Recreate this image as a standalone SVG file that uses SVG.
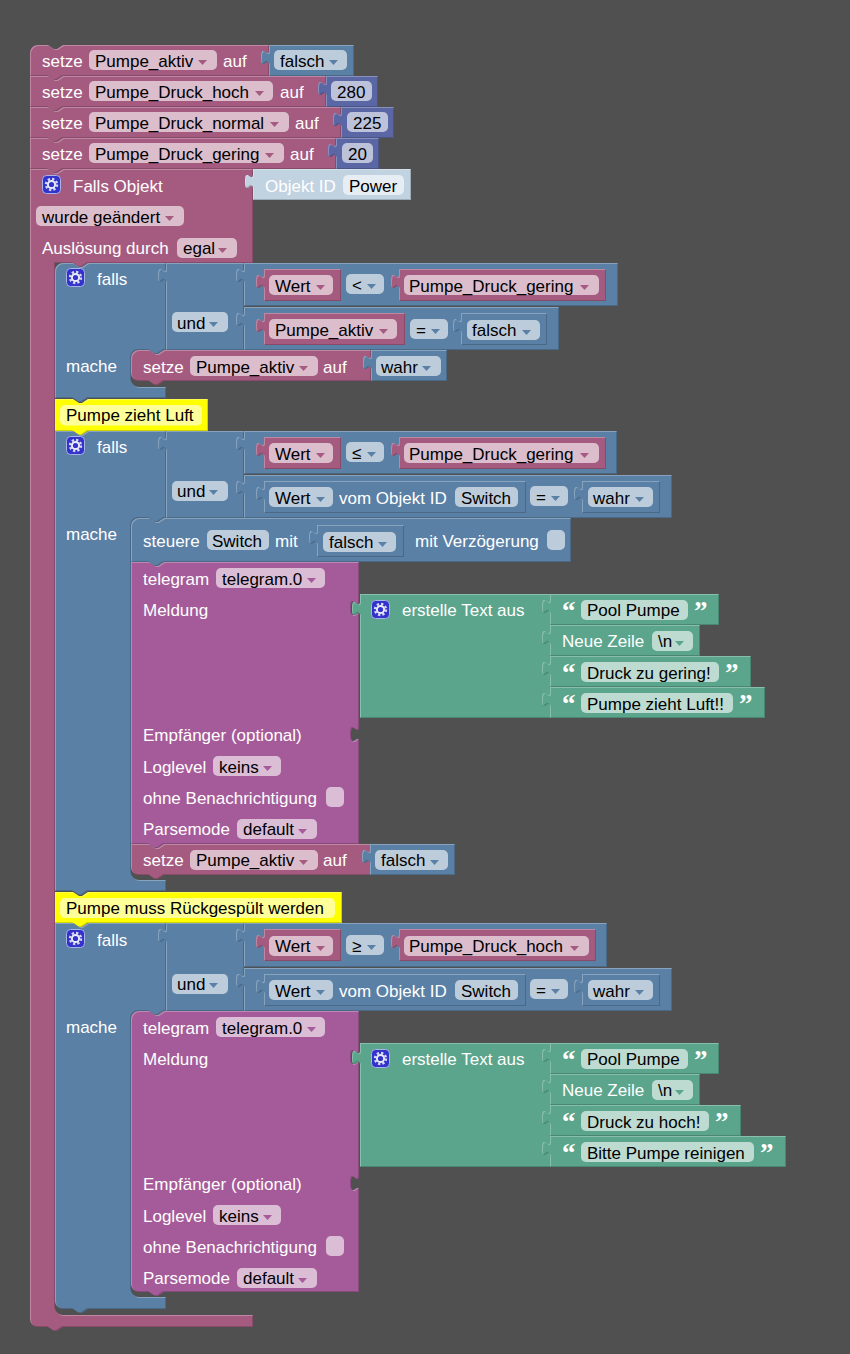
<svg xmlns="http://www.w3.org/2000/svg" width="850" height="1354" viewBox="0 0 850 1354">
<style>
text{font-family:"Liberation Sans",Arial,sans-serif;font-size:17px}
.w{fill:#fff}.k{fill:#000}
.s{filter:url(#bev)}
.v{fill:#a55b80}.l{fill:#5b80a5}.m{fill:#5b67a5}.t{fill:#5ba58c}.p{fill:#a55b99}.y{fill:#ff0}.o{fill:#c1d2e1}
.f{fill:#fff;fill-opacity:.6}
.q{fill:#fff;font-family:"Liberation Serif",serif;font-weight:bold;font-size:27px}
</style>
<defs>
<filter id="bev" x="-5%" y="-5%" width="110%" height="110%" color-interpolation-filters="sRGB">
<feOffset in="SourceAlpha" dx="1" dy="1" result="o1"/>
<feComposite in="SourceAlpha" in2="o1" operator="out" result="tl"/>
<feFlood flood-color="#fff" flood-opacity=".28"/>
<feComposite in2="tl" operator="in" result="hl"/>
<feOffset in="SourceAlpha" dx="-1" dy="-1" result="o2"/>
<feComposite in="SourceAlpha" in2="o2" operator="out" result="br"/>
<feFlood flood-color="#000" flood-opacity=".18"/>
<feComposite in2="br" operator="in" result="sh"/>
<feMerge><feMergeNode in="SourceGraphic"/><feMergeNode in="hl"/><feMergeNode in="sh"/></feMerge>
</filter>
<path id="a" d="M0,0h9l-4.500,5z" stroke-width="1" stroke-linejoin="round"/>
<g id="gear">
<rect x="0.500" y="0.500" width="18" height="18" rx="4" fill="#3333cc" stroke="#a9b4e6"/>
<circle cx="9.500" cy="9.500" r="5.500" fill="none" stroke="#d5d9f2" stroke-width="2.400" stroke-dasharray="2.300 2"/>
<circle cx="9.500" cy="9.500" r="3.600" fill="none" stroke="#e8eaf8" stroke-width="2"/>
</g>
</defs>
<rect width="850" height="1354" fill="#505050"/>

<g id="set1"><path class="s v" d="M38,45H48l6,4 3,0 6,-4H269V76H63l-6,4 -3,0 -6,-4H30V53A8,8 0 0 1 38,45z"/>
<text class="w" x="42" y="67">setze</text><rect class="f" x="89" y="50" width="128" height="20" rx="5"/><text class="k" x="95" y="66.500">Pumpe_aktiv</text><use href="#a" x="198" y="60" class="v"/><text class="w" x="223" y="67">auf</text></g>
<g id="val1"><path class="s l" d="M269,45H354V76H269V65c0,-10 -8,8 -8,-7.500s8,2.500 8,-7.500z"/>
<rect class="f" x="274" y="50" width="73" height="20" rx="5"/><text class="k" x="280" y="66.500">falsch</text><use href="#a" x="329" y="60" class="l"/></g>

<g id="set2"><path class="s v" d="M30,76H48l6,4 3,0 6,-4H326V107H63l-6,4 -3,0 -6,-4H30z"/>
<text class="w" x="42" y="98">setze</text><rect class="f" x="89" y="81" width="184" height="20" rx="5"/><text class="k" x="95" y="97.500">Pumpe_Druck_hoch</text><use href="#a" x="255" y="91" class="v"/><text class="w" x="280" y="98">auf</text></g>
<g id="val2"><path class="s m" d="M326,76H378V107H326V96c0,-10 -8,8 -8,-7.500s8,2.500 8,-7.500z"/>
<rect class="f" x="331" y="81" width="41" height="20" rx="5"/><text class="k" x="337" y="97.500">280</text></g>

<g id="set3"><path class="s v" d="M30,107H48l6,4 3,0 6,-4H341V138H63l-6,4 -3,0 -6,-4H30z"/>
<text class="w" x="42" y="129">setze</text><rect class="f" x="89" y="112" width="200" height="20" rx="5"/><text class="k" x="95" y="128.500">Pumpe_Druck_normal</text><use href="#a" x="270" y="122" class="v"/><text class="w" x="295" y="129">auf</text></g>
<g id="val3"><path class="s m" d="M341,107H394V138H341V127c0,-10 -8,8 -8,-7.500s8,2.500 8,-7.500z"/>
<rect class="f" x="347" y="112" width="41" height="20" rx="5"/><text class="k" x="353" y="128.500">225</text></g>

<g id="set4"><path class="s v" d="M30,138H48l6,4 3,0 6,-4H336V169H63l-6,4 -3,0 -6,-4H30z"/>
<text class="w" x="42" y="160">setze</text><rect class="f" x="89" y="143" width="195" height="20" rx="5"/><text class="k" x="95" y="159.500">Pumpe_Druck_gering</text><use href="#a" x="265" y="153" class="v"/><text class="w" x="290" y="160">auf</text></g>
<g id="val4"><path class="s m" d="M336,138H379V169H336V158c0,-10 -8,8 -8,-7.500s8,2.500 8,-7.500z"/>
<rect class="f" x="342" y="143" width="31" height="20" rx="5"/><text class="k" x="348" y="159.500">20</text></g>

<g id="trigger"><path class="s v" d="M30,169H48l6,4 3,0 6,-4H253V263H88l-6,4 -3,0 -6,-4H55V1307A8,8 0 0 0 63,1315H253V1327H63l-6,4 -3,0 -6,-4H38A8,8 0 0 1 30,1319z"/>
<use href="#gear" x="42" y="175"/><text class="w" x="73" y="192">Falls Objekt</text>
<rect class="f" x="36" y="206" width="148" height="20" rx="5"/><text class="k" x="42" y="222.500">wurde geändert</text><use href="#a" x="165" y="216" class="v"/>
<text class="w" x="42" y="254">Auslösung durch</text><rect class="f" x="177" y="238" width="60" height="20" rx="5"/><text class="k" x="183" y="254">egal</text><use href="#a" x="218" y="248" class="v"/></g>
<g id="objid"><path class="s o" d="M253,169H411V200H253V189c0,-10 -8,8 -8,-7.500s8,2.500 8,-7.500z"/>
<text class="w" x="265" y="192">Objekt ID</text><rect class="f" x="343" y="175" width="61" height="20" rx="5"/><text class="k" x="349" y="191.500">Power</text></g>

<g id="falls1"><path class="s l" d="M63,263H73l6,4 3,0 6,-4H166V350H164l-6,4 -3,0 -6,-4H139A8,8 0 0 0 131,358V379A8,8 0 0 0 139,387H166V398H88l-6,4 -3,0 -6,-4H55V271A8,8 0 0 1 63,263z"/>
<use href="#gear" x="66" y="268"/><text class="w" x="97" y="285">falls</text><text class="w" x="66" y="372">mache</text></g>
<g id="und1"><path class="s l" d="M166,263H244V350H166V283c0,-10 -8,8 -8,-7.500s8,2.500 8,-7.500z"/>
<rect class="f" x="172" y="312" width="56" height="20" rx="5"/><text class="k" x="177" y="329">und</text><use href="#a" x="209" y="322" class="l"/></g>
<g id="cmp1a"><path class="s l" d="M244,263H618V306H244V283c0,-10 -8,8 -8,-7.500s8,2.500 8,-7.500z"/>
<rect class="f" x="346" y="274" width="38" height="20" rx="5"/><text class="k" x="352" y="291">&lt;</text><use href="#a" x="367" y="284" class="l"/></g>
<g id="wert1a"><path class="s v" d="M264,269H341V301H264V289c0,-10 -8,8 -8,-7.500s8,2.500 8,-7.500z"/>
<rect class="f" x="269" y="275" width="64" height="20" rx="5"/><text class="k" x="275" y="291.500">Wert</text><use href="#a" x="316" y="285" class="v"/></g>
<g id="var1a"><path class="s v" d="M399,269H606V301H399V289c0,-10 -8,8 -8,-7.500s8,2.500 8,-7.500z"/>
<rect class="f" x="404" y="275" width="195" height="20" rx="5"/><text class="k" x="409" y="291.500">Pumpe_Druck_gering</text><use href="#a" x="580" y="285" class="v"/></g>
<g id="cmp1b"><path class="s l" d="M244,307H559V350H244V327c0,-10 -8,8 -8,-7.500s8,2.500 8,-7.500z"/>
<rect class="f" x="410" y="319" width="38" height="20" rx="5"/><text class="k" x="416" y="336">=</text><use href="#a" x="431" y="329" class="l"/></g>
<g id="var1b"><path class="s v" d="M264,313H405V345H264V333c0,-10 -8,8 -8,-7.500s8,2.500 8,-7.500z"/>
<rect class="f" x="269" y="319" width="128" height="20" rx="5"/><text class="k" x="275" y="335.500">Pumpe_aktiv</text><use href="#a" x="379" y="329" class="v"/></g>
<g id="bool1b"><path class="s l" d="M461,313H547V345H461V333c0,-10 -8,8 -8,-7.500s8,2.500 8,-7.500z"/>
<rect class="f" x="467" y="320" width="73" height="20" rx="5"/><text class="k" x="472" y="336">falsch</text><use href="#a" x="522" y="330" class="l"/></g>
<g id="set5"><path class="s v" d="M139,350H149l6,4 3,0 6,-4H371V381H164l-6,4 -3,0 -6,-4H139A8,8 0 0 1 131,373V358A8,8 0 0 1 139,350z"/>
<text class="w" x="143" y="373">setze</text><rect class="f" x="190" y="356" width="128" height="20" rx="5"/><text class="k" x="196" y="372.500">Pumpe_aktiv</text><use href="#a" x="299" y="366" class="v"/><text class="w" x="323" y="373">auf</text></g>
<g id="val5"><path class="s l" d="M371,350H447V381H371V370c0,-10 -8,8 -8,-7.500s8,2.500 8,-7.500z"/>
<rect class="f" x="376" y="356" width="65" height="20" rx="5"/><text class="k" x="381" y="372.500">wahr</text><use href="#a" x="422" y="366" class="l"/></g>

<g id="comment1"><path class="s y" d="M55,399H73l6,4 3,0 6,-4H208V431H88l-6,4 -3,0 -6,-4H55z"/>
<rect x="60" y="405" width="142" height="20.500" rx="5" fill="#fff" fill-opacity=".6"/><text class="k" x="66" y="421">Pumpe zieht Luft</text></g>

<g id="falls2"><path class="s l" d="M55,431H73l6,4 3,0 6,-4H166V518H164l-6,4 -3,0 -6,-4H139A8,8 0 0 0 131,526V872A8,8 0 0 0 139,880H166V891H88l-6,4 -3,0 -6,-4H55z"/>
<use href="#gear" x="66" y="436"/><text class="w" x="97" y="453">falls</text><text class="w" x="66" y="540">mache</text></g>
<g id="und2"><path class="s l" d="M166,431H244V518H166V451c0,-10 -8,8 -8,-7.500s8,2.500 8,-7.500z"/>
<rect class="f" x="172" y="481" width="56" height="20" rx="5"/><text class="k" x="177" y="497">und</text><use href="#a" x="209" y="490" class="l"/></g>
<g id="cmp2a"><path class="s l" d="M244,431H617V474H244V451c0,-10 -8,8 -8,-7.500s8,2.500 8,-7.500z"/>
<rect class="f" x="346" y="442" width="38" height="20" rx="5"/><text class="k" x="352" y="459">≤</text><use href="#a" x="367" y="452" class="l"/></g>
<g id="wert2a"><path class="s v" d="M264,437H341V469H264V457c0,-10 -8,8 -8,-7.500s8,2.500 8,-7.500z"/>
<rect class="f" x="269" y="443" width="64" height="20" rx="5"/><text class="k" x="275" y="459.500">Wert</text><use href="#a" x="316" y="453" class="v"/></g>
<g id="var2a"><path class="s v" d="M399,437H606V469H399V457c0,-10 -8,8 -8,-7.500s8,2.500 8,-7.500z"/>
<rect class="f" x="404" y="443" width="195" height="20" rx="5"/><text class="k" x="409" y="459.500">Pumpe_Druck_gering</text><use href="#a" x="580" y="453" class="v"/></g>
<g id="cmp2b"><path class="s l" d="M244,475H672V518H244V495c0,-10 -8,8 -8,-7.500s8,2.500 8,-7.500z"/>
<rect class="f" x="530" y="486" width="38" height="20" rx="5"/><text class="k" x="536" y="503">=</text><use href="#a" x="551" y="496" class="l"/></g>
<g id="state2b"><path class="s l" d="M264,481H526V513H264V501c0,-10 -8,8 -8,-7.500s8,2.500 8,-7.500z"/>
<rect class="f" x="269" y="487" width="64" height="20" rx="5"/><text class="k" x="275" y="504">Wert</text><use href="#a" x="316" y="497" class="l"/>
<text class="w" x="339" y="504">vom Objekt ID</text><rect class="f" x="455" y="487" width="63" height="20" rx="5"/><text class="k" x="461" y="504">Switch</text></g>
<g id="bool2b"><path class="s l" d="M582,481H660V513H582V501c0,-10 -8,8 -8,-7.500s8,2.500 8,-7.500z"/>
<rect class="f" x="588" y="487" width="65" height="20" rx="5"/><text class="k" x="593" y="504">wahr</text><use href="#a" x="635" y="497" class="l"/></g>

<g id="steuere"><path class="s l" d="M139,518H149l6,4 3,0 6,-4H571V562H164l-6,4 -3,0 -6,-4H131V526A8,8 0 0 1 139,518z"/>
<text class="w" x="143" y="547">steuere</text><rect class="f" x="207" y="530" width="62" height="20" rx="5"/><text class="k" x="212" y="546.500">Switch</text><text class="w" x="275" y="547">mit</text>
<text class="w" x="415" y="547">mit Verzögerung</text><rect class="f" x="547" y="530" width="18" height="20" rx="5"/></g>
<g id="bool3"><path class="s l" d="M317,525H404V557H317V545c0,-10 -8,8 -8,-7.500s8,2.500 8,-7.500z"/>
<rect class="f" x="323" y="532" width="73" height="20" rx="5"/><text class="k" x="329" y="548">falsch</text><use href="#a" x="378" y="542" class="l"/></g>

<g id="telegram1"><path class="s p" d="M131,562H149l6,4 3,0 6,-4H359V601c0,10 -8,-8 -8,7.500s8,-2.500 8,7.500V727c0,10 -8,-8 -8,7.500s8,-2.500 8,7.500V844H164l-6,4 -3,0 -6,-4H131z"/>
<text class="w" x="143" y="585">telegram</text><rect class="f" x="216" y="568" width="109" height="20" rx="5"/><text class="k" x="222" y="585">telegram.0</text><use href="#a" x="307" y="578" class="p"/>
<text class="w" x="143" y="616">Meldung</text><text class="w" x="143" y="741">Empfänger (optional)</text>
<text class="w" x="143" y="773">Loglevel</text><rect class="f" x="213" y="756" width="68" height="20" rx="5"/><text class="k" x="219" y="773">keins</text><use href="#a" x="263" y="766" class="p"/>
<text class="w" x="143" y="804">ohne Benachrichtigung</text><rect class="f" x="326" y="787" width="18" height="20" rx="5"/>
<text class="w" x="143" y="835">Parsemode</text><rect class="f" x="237" y="819" width="80" height="20" rx="5"/><text class="k" x="243" y="835">default</text><use href="#a" x="298" y="829" class="p"/></g>
<g id="text1"><path class="s t" d="M360,594H551V718H360V616c0,-10 -8,8 -8,-7.500s8,2.500 8,-7.500z"/>
<use href="#gear" x="371" y="600"/><text class="w" x="402" y="616">erstelle Text aus</text></g>
<g id="t1r1"><path class="s t" d="M550,594H719V625H550V614c0,-10 -8,8 -8,-7.500s8,2.500 8,-7.500z"/>
<text class="q" x="562" y="620">“</text><rect class="f" x="581" y="600" width="107" height="20" rx="5"/><text class="k" x="587" y="616">Pool Pumpe</text><text class="q" x="694" y="620">”</text></g>
<g id="t1r2"><path class="s t" d="M550,625H700V656H550V645c0,-10 -8,8 -8,-7.500s8,2.500 8,-7.500z"/>
<text class="w" x="562" y="647">Neue Zeile</text><rect class="f" x="652" y="631" width="41" height="20" rx="5"/><text class="k" x="658" y="647">\n</text><use href="#a" x="675" y="641" class="t"/></g>
<g id="t1r3"><path class="s t" d="M550,656H751V687H550V676c0,-10 -8,8 -8,-7.500s8,2.500 8,-7.500z"/>
<text class="q" x="562" y="682">“</text><rect class="f" x="581" y="662" width="138" height="20" rx="5"/><text class="k" x="587" y="679">Druck zu gering!</text><text class="q" x="725" y="682">”</text></g>
<g id="t1r4"><path class="s t" d="M550,687H765V718H550V707c0,-10 -8,8 -8,-7.500s8,2.500 8,-7.500z"/>
<text class="q" x="562" y="713">“</text><rect class="f" x="581" y="693" width="152" height="20" rx="5"/><text class="k" x="587" y="710">Pumpe zieht Luft!!</text><text class="q" x="739" y="713">”</text></g>

<g id="set6"><path class="s v" d="M131,844H149l6,4 3,0 6,-4H371V875H164l-6,4 -3,0 -6,-4H139A8,8 0 0 1 131,867z"/>
<text class="w" x="143" y="866">setze</text><rect class="f" x="190" y="850" width="128" height="20" rx="5"/><text class="k" x="196" y="866">Pumpe_aktiv</text><use href="#a" x="299" y="860" class="v"/><text class="w" x="323" y="866">auf</text></g>
<g id="val6"><path class="s l" d="M370,844H455V875H370V864c0,-10 -8,8 -8,-7.500s8,2.500 8,-7.500z"/>
<rect class="f" x="375" y="850" width="73" height="20" rx="5"/><text class="k" x="381" y="866">falsch</text><use href="#a" x="430" y="860" class="l"/></g>

<g id="comment2"><path class="s y" d="M55,892H73l6,4 3,0 6,-4H342V923H88l-6,4 -3,0 -6,-4H55z"/>
<rect x="60" y="898" width="275" height="20" rx="5" fill="#fff" fill-opacity=".6"/><text class="k" x="66" y="914">Pumpe muss Rückgespült werden</text></g>

<g id="falls3"><path class="s l" d="M55,923H73l6,4 3,0 6,-4H166V1011H164l-6,4 -3,0 -6,-4H139A8,8 0 0 0 131,1019V1289A8,8 0 0 0 139,1297H166V1309H88l-6,4 -3,0 -6,-4H63A8,8 0 0 1 55,1301z"/>
<use href="#gear" x="66" y="929"/><text class="w" x="97" y="946">falls</text><text class="w" x="66" y="1033">mache</text></g>
<g id="und3"><path class="s l" d="M166,923H244V1011H166V943c0,-10 -8,8 -8,-7.500s8,2.500 8,-7.500z"/>
<rect class="f" x="172" y="974" width="56" height="20" rx="5"/><text class="k" x="177" y="990">und</text><use href="#a" x="209" y="983" class="l"/></g>
<g id="cmp3a"><path class="s l" d="M244,923H607V967H244V943c0,-10 -8,8 -8,-7.500s8,2.500 8,-7.500z"/>
<rect class="f" x="346" y="935" width="38" height="20" rx="5"/><text class="k" x="352" y="952">≥</text><use href="#a" x="367" y="945" class="l"/></g>
<g id="wert3a"><path class="s v" d="M264,929H341V961H264V949c0,-10 -8,8 -8,-7.500s8,2.500 8,-7.500z"/>
<rect class="f" x="269" y="936" width="64" height="20" rx="5"/><text class="k" x="275" y="952">Wert</text><use href="#a" x="316" y="946" class="v"/></g>
<g id="var3a"><path class="s v" d="M399,929H596V961H399V949c0,-10 -8,8 -8,-7.500s8,2.500 8,-7.500z"/>
<rect class="f" x="404" y="936" width="185" height="20" rx="5"/><text class="k" x="409" y="952">Pumpe_Druck_hoch</text><use href="#a" x="570" y="946" class="v"/></g>
<g id="cmp3b"><path class="s l" d="M244,968H672V1011H244V988c0,-10 -8,8 -8,-7.500s8,2.500 8,-7.500z"/>
<rect class="f" x="530" y="979" width="38" height="20" rx="5"/><text class="k" x="536" y="996">=</text><use href="#a" x="551" y="989" class="l"/></g>
<g id="state3b"><path class="s l" d="M264,974H526V1006H264V994c0,-10 -8,8 -8,-7.500s8,2.500 8,-7.500z"/>
<rect class="f" x="269" y="980" width="64" height="20" rx="5"/><text class="k" x="275" y="997">Wert</text><use href="#a" x="316" y="990" class="l"/>
<text class="w" x="339" y="997">vom Objekt ID</text><rect class="f" x="455" y="980" width="63" height="20" rx="5"/><text class="k" x="461" y="997">Switch</text></g>
<g id="bool3b"><path class="s l" d="M582,974H660V1006H582V994c0,-10 -8,8 -8,-7.500s8,2.500 8,-7.500z"/>
<rect class="f" x="588" y="980" width="65" height="20" rx="5"/><text class="k" x="593" y="997">wahr</text><use href="#a" x="635" y="990" class="l"/></g>

<g id="telegram2"><path class="s p" d="M139,1011H149l6,4 3,0 6,-4H359V1050c0,10 -8,-8 -8,7.500s8,-2.500 8,7.500V1176c0,10 -8,-8 -8,7.500s8,-2.500 8,7.500V1292H164l-6,4 -3,0 -6,-4H139A8,8 0 0 1 131,1284V1019A8,8 0 0 1 139,1011z"/>
<text class="w" x="143" y="1034">telegram</text><rect class="f" x="216" y="1017" width="109" height="20" rx="5"/><text class="k" x="222" y="1034">telegram.0</text><use href="#a" x="307" y="1027" class="p"/>
<text class="w" x="143" y="1065">Meldung</text><text class="w" x="143" y="1190">Empfänger (optional)</text>
<text class="w" x="143" y="1222">Loglevel</text><rect class="f" x="213" y="1205" width="68" height="20" rx="5"/><text class="k" x="219" y="1222">keins</text><use href="#a" x="263" y="1215" class="p"/>
<text class="w" x="143" y="1253">ohne Benachrichtigung</text><rect class="f" x="326" y="1236" width="18" height="20" rx="5"/>
<text class="w" x="143" y="1284">Parsemode</text><rect class="f" x="237" y="1268" width="80" height="20" rx="5"/><text class="k" x="243" y="1284">default</text><use href="#a" x="298" y="1278" class="p"/></g>
<g id="text2"><path class="s t" d="M360,1043H551V1167H360V1065c0,-10 -8,8 -8,-7.500s8,2.500 8,-7.500z"/>
<use href="#gear" x="371" y="1049"/><text class="w" x="402" y="1065">erstelle Text aus</text></g>
<g id="t2r1"><path class="s t" d="M550,1043H719V1074H550V1063c0,-10 -8,8 -8,-7.500s8,2.500 8,-7.500z"/>
<text class="q" x="562" y="1069">“</text><rect class="f" x="581" y="1049" width="107" height="20" rx="5"/><text class="k" x="587" y="1065">Pool Pumpe</text><text class="q" x="694" y="1069">”</text></g>
<g id="t2r2"><path class="s t" d="M550,1074H700V1105H550V1094c0,-10 -8,8 -8,-7.500s8,2.500 8,-7.500z"/>
<text class="w" x="562" y="1096">Neue Zeile</text><rect class="f" x="652" y="1080" width="41" height="20" rx="5"/><text class="k" x="658" y="1096">\n</text><use href="#a" x="675" y="1090" class="t"/></g>
<g id="t2r3"><path class="s t" d="M550,1105H741V1136H550V1125c0,-10 -8,8 -8,-7.500s8,2.500 8,-7.500z"/>
<text class="q" x="562" y="1131">“</text><rect class="f" x="581" y="1111" width="128" height="20" rx="5"/><text class="k" x="587" y="1128">Druck zu hoch!</text><text class="q" x="715" y="1131">”</text></g>
<g id="t2r4"><path class="s t" d="M550,1136H786V1167H550V1156c0,-10 -8,8 -8,-7.500s8,2.500 8,-7.500z"/>
<text class="q" x="562" y="1162">“</text><rect class="f" x="581" y="1142" width="173" height="20" rx="5"/><text class="k" x="587" y="1159">Bitte Pumpe reinigen</text><text class="q" x="760" y="1162">”</text></g>
</svg>
